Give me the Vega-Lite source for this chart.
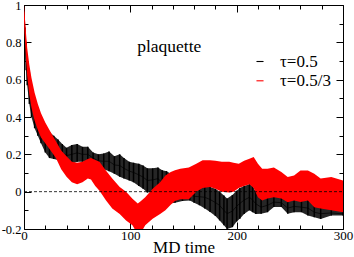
{
  "$schema": "https://vega.github.io/schema/vega-lite/v6.json",
  "width": 319,
  "height": 224,
  "autosize": {"type": "none"},
  "padding": {"left": 24, "top": 5, "right": 11, "bottom": 28},
  "background": "white",
  "config": {
    "view": {"stroke": "black", "strokeWidth": 1},
    "axis": {"domain": false, "grid": false, "labelFont": "Liberation Serif", "titleFont": "Liberation Serif", "labelColor": "black", "tickColor": "black", "titleColor": "black"},
    "legend": {"labelFont": "Liberation Serif", "labelColor": "black"}
  },
  "datasets": {
    "bands": [
      {"s": "τ=0.5", "t": 0, "lo": 0.95, "hi": 1.0, "mid": 0.975},
      {"s": "τ=0.5", "t": 1, "lo": 0.76, "hi": 0.88, "mid": 0.82},
      {"s": "τ=0.5", "t": 2, "lo": 0.65, "hi": 0.8, "mid": 0.725},
      {"s": "τ=0.5", "t": 3, "lo": 0.57, "hi": 0.73, "mid": 0.65},
      {"s": "τ=0.5", "t": 5, "lo": 0.47, "hi": 0.64, "mid": 0.555},
      {"s": "τ=0.5", "t": 7, "lo": 0.4, "hi": 0.57, "mid": 0.485},
      {"s": "τ=0.5", "t": 10, "lo": 0.34, "hi": 0.49, "mid": 0.415},
      {"s": "τ=0.5", "t": 13, "lo": 0.3, "hi": 0.43, "mid": 0.365},
      {"s": "τ=0.5", "t": 16, "lo": 0.26, "hi": 0.39, "mid": 0.325},
      {"s": "τ=0.5", "t": 20, "lo": 0.21, "hi": 0.35, "mid": 0.28},
      {"s": "τ=0.5", "t": 24, "lo": 0.18, "hi": 0.32, "mid": 0.25},
      {"s": "τ=0.5", "t": 28, "lo": 0.175, "hi": 0.3, "mid": 0.238},
      {"s": "τ=0.5", "t": 32, "lo": 0.17, "hi": 0.28, "mid": 0.225},
      {"s": "τ=0.5", "t": 36, "lo": 0.16, "hi": 0.255, "mid": 0.208},
      {"s": "τ=0.5", "t": 40, "lo": 0.15, "hi": 0.235, "mid": 0.193},
      {"s": "τ=0.5", "t": 45, "lo": 0.15, "hi": 0.25, "mid": 0.2},
      {"s": "τ=0.5", "t": 50, "lo": 0.16, "hi": 0.255, "mid": 0.208},
      {"s": "τ=0.5", "t": 55, "lo": 0.16, "hi": 0.24, "mid": 0.2},
      {"s": "τ=0.5", "t": 60, "lo": 0.16, "hi": 0.24, "mid": 0.2},
      {"s": "τ=0.5", "t": 65, "lo": 0.15, "hi": 0.21, "mid": 0.18},
      {"s": "τ=0.5", "t": 70, "lo": 0.13, "hi": 0.2, "mid": 0.165},
      {"s": "τ=0.5", "t": 75, "lo": 0.12, "hi": 0.205, "mid": 0.163},
      {"s": "τ=0.5", "t": 80, "lo": 0.11, "hi": 0.215, "mid": 0.163},
      {"s": "τ=0.5", "t": 85, "lo": 0.096, "hi": 0.19, "mid": 0.143},
      {"s": "τ=0.5", "t": 90, "lo": 0.08, "hi": 0.2, "mid": 0.14},
      {"s": "τ=0.5", "t": 94, "lo": 0.07, "hi": 0.18, "mid": 0.125},
      {"s": "τ=0.5", "t": 99, "lo": 0.06, "hi": 0.16, "mid": 0.11},
      {"s": "τ=0.5", "t": 103, "lo": 0.05, "hi": 0.155, "mid": 0.103},
      {"s": "τ=0.5", "t": 108, "lo": 0.03, "hi": 0.15, "mid": 0.09},
      {"s": "τ=0.5", "t": 112, "lo": 0.015, "hi": 0.14, "mid": 0.078},
      {"s": "τ=0.5", "t": 116, "lo": -0.005, "hi": 0.125, "mid": 0.06},
      {"s": "τ=0.5", "t": 121, "lo": 0.0, "hi": 0.125, "mid": 0.063},
      {"s": "τ=0.5", "t": 126, "lo": 0.01, "hi": 0.13, "mid": 0.07},
      {"s": "τ=0.5", "t": 130, "lo": -0.02, "hi": 0.115, "mid": 0.048},
      {"s": "τ=0.5", "t": 134, "lo": -0.04, "hi": 0.11, "mid": 0.035},
      {"s": "τ=0.5", "t": 137, "lo": -0.064, "hi": 0.1, "mid": 0.018},
      {"s": "τ=0.5", "t": 142, "lo": -0.06, "hi": 0.08, "mid": 0.01},
      {"s": "τ=0.5", "t": 149, "lo": -0.05, "hi": 0.05, "mid": 0.0},
      {"s": "τ=0.5", "t": 156, "lo": -0.047, "hi": 0.02, "mid": -0.014},
      {"s": "τ=0.5", "t": 160, "lo": -0.06, "hi": 0.02, "mid": -0.025},
      {"s": "τ=0.5", "t": 165, "lo": -0.073, "hi": 0.025, "mid": -0.027},
      {"s": "τ=0.5", "t": 170, "lo": -0.09, "hi": 0.03, "mid": -0.03},
      {"s": "τ=0.5", "t": 175, "lo": -0.109, "hi": 0.025, "mid": -0.042},
      {"s": "τ=0.5", "t": 180, "lo": -0.13, "hi": 0.015, "mid": -0.058},
      {"s": "τ=0.5", "t": 184, "lo": -0.154, "hi": 0.0, "mid": -0.074},
      {"s": "τ=0.5", "t": 188, "lo": -0.18, "hi": -0.02, "mid": -0.1},
      {"s": "τ=0.5", "t": 191, "lo": -0.2, "hi": -0.036, "mid": -0.118},
      {"s": "τ=0.5", "t": 196, "lo": -0.19, "hi": -0.018, "mid": -0.104},
      {"s": "τ=0.5", "t": 200, "lo": -0.16, "hi": 0.005, "mid": -0.078},
      {"s": "τ=0.5", "t": 203, "lo": -0.145, "hi": 0.02, "mid": -0.063},
      {"s": "τ=0.5", "t": 207, "lo": -0.12, "hi": 0.03, "mid": -0.045},
      {"s": "τ=0.5", "t": 212, "lo": -0.1, "hi": 0.04, "mid": -0.03},
      {"s": "τ=0.5", "t": 215, "lo": -0.11, "hi": 0.03, "mid": -0.045},
      {"s": "τ=0.5", "t": 218, "lo": -0.12, "hi": 0.0, "mid": -0.065},
      {"s": "τ=0.5", "t": 223, "lo": -0.118, "hi": -0.03, "mid": -0.083},
      {"s": "τ=0.5", "t": 229, "lo": -0.11, "hi": -0.02, "mid": -0.073},
      {"s": "τ=0.5", "t": 235, "lo": -0.082, "hi": -0.015, "mid": -0.056},
      {"s": "τ=0.5", "t": 242, "lo": -0.082, "hi": -0.02, "mid": -0.059},
      {"s": "τ=0.5", "t": 248, "lo": -0.118, "hi": -0.04, "mid": -0.088},
      {"s": "τ=0.5", "t": 254, "lo": -0.11, "hi": -0.03, "mid": -0.079},
      {"s": "τ=0.5", "t": 261, "lo": -0.11, "hi": -0.04, "mid": -0.083},
      {"s": "τ=0.5", "t": 267, "lo": -0.128, "hi": -0.03, "mid": -0.088},
      {"s": "τ=0.5", "t": 273, "lo": -0.137, "hi": -0.065, "mid": -0.11},
      {"s": "τ=0.5", "t": 279, "lo": -0.146, "hi": -0.075, "mid": -0.118},
      {"s": "τ=0.5", "t": 289, "lo": -0.128, "hi": -0.085, "mid": -0.114},
      {"s": "τ=0.5", "t": 300, "lo": -0.128, "hi": -0.095, "mid": -0.119},
      {"s": "τ=0.5/3", "t": 0, "lo": 0.93, "hi": 1.0, "mid": 0.965},
      {"s": "τ=0.5/3", "t": 1, "lo": 0.8, "hi": 0.92, "mid": 0.86},
      {"s": "τ=0.5/3", "t": 2, "lo": 0.7, "hi": 0.84, "mid": 0.77},
      {"s": "τ=0.5/3", "t": 3, "lo": 0.62, "hi": 0.77, "mid": 0.695},
      {"s": "τ=0.5/3", "t": 5, "lo": 0.52, "hi": 0.68, "mid": 0.6},
      {"s": "τ=0.5/3", "t": 7, "lo": 0.45, "hi": 0.61, "mid": 0.53},
      {"s": "τ=0.5/3", "t": 10, "lo": 0.38, "hi": 0.53, "mid": 0.455},
      {"s": "τ=0.5/3", "t": 13, "lo": 0.33, "hi": 0.47, "mid": 0.4},
      {"s": "τ=0.5/3", "t": 16, "lo": 0.29, "hi": 0.42, "mid": 0.355},
      {"s": "τ=0.5/3", "t": 20, "lo": 0.26, "hi": 0.37, "mid": 0.315},
      {"s": "τ=0.5/3", "t": 25, "lo": 0.22, "hi": 0.32, "mid": 0.27},
      {"s": "τ=0.5/3", "t": 30, "lo": 0.18, "hi": 0.27, "mid": 0.225},
      {"s": "τ=0.5/3", "t": 35, "lo": 0.12, "hi": 0.22, "mid": 0.17},
      {"s": "τ=0.5/3", "t": 40, "lo": 0.08, "hi": 0.19, "mid": 0.135},
      {"s": "τ=0.5/3", "t": 45, "lo": 0.05, "hi": 0.16, "mid": 0.105},
      {"s": "τ=0.5/3", "t": 50, "lo": 0.04, "hi": 0.155, "mid": 0.098},
      {"s": "τ=0.5/3", "t": 55, "lo": 0.05, "hi": 0.16, "mid": 0.105},
      {"s": "τ=0.5/3", "t": 60, "lo": 0.07, "hi": 0.175, "mid": 0.123},
      {"s": "τ=0.5/3", "t": 63, "lo": 0.065, "hi": 0.18, "mid": 0.123},
      {"s": "τ=0.5/3", "t": 67, "lo": 0.03, "hi": 0.17, "mid": 0.1},
      {"s": "τ=0.5/3", "t": 71, "lo": 0.005, "hi": 0.16, "mid": 0.083},
      {"s": "τ=0.5/3", "t": 77, "lo": -0.046, "hi": 0.114, "mid": 0.034},
      {"s": "τ=0.5/3", "t": 83, "lo": -0.09, "hi": 0.07, "mid": -0.01},
      {"s": "τ=0.5/3", "t": 90, "lo": -0.12, "hi": 0.025, "mid": -0.048},
      {"s": "τ=0.5/3", "t": 96, "lo": -0.155, "hi": 0.0, "mid": -0.078},
      {"s": "τ=0.5/3", "t": 102, "lo": -0.18, "hi": -0.038, "mid": -0.109},
      {"s": "τ=0.5/3", "t": 107, "lo": -0.23, "hi": -0.064, "mid": -0.147},
      {"s": "τ=0.5/3", "t": 110, "lo": -0.22, "hi": -0.05, "mid": -0.135},
      {"s": "τ=0.5/3", "t": 114, "lo": -0.18, "hi": -0.03, "mid": -0.105},
      {"s": "τ=0.5/3", "t": 121, "lo": -0.145, "hi": 0.016, "mid": -0.065},
      {"s": "τ=0.5/3", "t": 128, "lo": -0.12, "hi": 0.05, "mid": -0.035},
      {"s": "τ=0.5/3", "t": 133, "lo": -0.1, "hi": 0.087, "mid": -0.007},
      {"s": "τ=0.5/3", "t": 138, "lo": -0.07, "hi": 0.105, "mid": 0.018},
      {"s": "τ=0.5/3", "t": 142, "lo": -0.05, "hi": 0.115, "mid": 0.033},
      {"s": "τ=0.5/3", "t": 147, "lo": -0.04, "hi": 0.123, "mid": 0.042},
      {"s": "τ=0.5/3", "t": 155, "lo": -0.04, "hi": 0.13, "mid": 0.045},
      {"s": "τ=0.5/3", "t": 162, "lo": 0.0, "hi": 0.15, "mid": 0.075},
      {"s": "τ=0.5/3", "t": 168, "lo": 0.02, "hi": 0.168, "mid": 0.094},
      {"s": "τ=0.5/3", "t": 175, "lo": 0.025, "hi": 0.168, "mid": 0.097},
      {"s": "τ=0.5/3", "t": 180, "lo": 0.015, "hi": 0.165, "mid": 0.09},
      {"s": "τ=0.5/3", "t": 186, "lo": 0.0, "hi": 0.16, "mid": 0.08},
      {"s": "τ=0.5/3", "t": 193, "lo": -0.005, "hi": 0.16, "mid": 0.078},
      {"s": "τ=0.5/3", "t": 197, "lo": 0.0, "hi": 0.155, "mid": 0.078},
      {"s": "τ=0.5/3", "t": 202, "lo": 0.02, "hi": 0.15, "mid": 0.085},
      {"s": "τ=0.5/3", "t": 207, "lo": 0.03, "hi": 0.165, "mid": 0.098},
      {"s": "τ=0.5/3", "t": 212, "lo": 0.04, "hi": 0.177, "mid": 0.109},
      {"s": "τ=0.5/3", "t": 216, "lo": 0.02, "hi": 0.186, "mid": 0.103},
      {"s": "τ=0.5/3", "t": 220, "lo": -0.03, "hi": 0.15, "mid": 0.06},
      {"s": "τ=0.5/3", "t": 224, "lo": -0.047, "hi": 0.123, "mid": 0.038},
      {"s": "τ=0.5/3", "t": 229, "lo": -0.036, "hi": 0.123, "mid": 0.044},
      {"s": "τ=0.5/3", "t": 235, "lo": -0.03, "hi": 0.13, "mid": 0.05},
      {"s": "τ=0.5/3", "t": 242, "lo": -0.036, "hi": 0.105, "mid": 0.035},
      {"s": "τ=0.5/3", "t": 248, "lo": -0.057, "hi": 0.078, "mid": 0.011},
      {"s": "τ=0.5/3", "t": 254, "lo": -0.047, "hi": 0.087, "mid": 0.02},
      {"s": "τ=0.5/3", "t": 260, "lo": -0.055, "hi": 0.114, "mid": 0.03},
      {"s": "τ=0.5/3", "t": 267, "lo": -0.047, "hi": 0.114, "mid": 0.034},
      {"s": "τ=0.5/3", "t": 273, "lo": -0.083, "hi": 0.096, "mid": 0.007},
      {"s": "τ=0.5/3", "t": 279, "lo": -0.09, "hi": 0.07, "mid": -0.01},
      {"s": "τ=0.5/3", "t": 289, "lo": -0.1, "hi": 0.078, "mid": -0.011},
      {"s": "τ=0.5/3", "t": 300, "lo": -0.11, "hi": 0.06, "mid": -0.025}
    ],
    "zero": [{"t": 0, "v": 0}, {"t": 300, "v": 0}],
    "note": [{"t": 136.6, "v": 0.749, "label": "plaquette"}]
  },
  "resolve": {"axis": {"x": "independent", "y": "independent"}},
  "layer": [
    {
      "data": {"name": "bands"},
      "transform": [{"filter": "datum.s === 'τ=0.5'"}],
      "mark": {"type": "area", "color": "#262626", "clip": true},
      "encoding": {
        "x": {"field": "t", "type": "quantitative", "scale": {"domain": [0, 300], "nice": false, "zero": false},
              "axis": {"orient": "bottom", "values": [0, 100, 200, 300], "ticks": false, "labelPadding": 0, "labelFontSize": 13, "labelFlush": false, "labelExpr": "'' + datum.value", "title": "MD time", "titleFontSize": 17, "titleFontWeight": "normal", "titlePadding": -3}},
        "y": {"field": "lo", "type": "quantitative", "scale": {"domain": [-0.2, 1], "nice": false, "zero": false},
              "axis": {"orient": "left", "values": [-0.2, 0, 0.2, 0.4, 0.6, 0.8, 1], "ticks": false, "labelPadding": 3, "labelFontSize": 12.5, "labelFlush": false, "labelExpr": "'' + datum.value", "title": null}},
        "y2": {"field": "hi"}
      }
    },
    {
      "data": {"name": "bands"},
      "transform": [{"filter": "datum.s === 'τ=0.5'"}],
      "mark": {"type": "rule", "color": "#000000", "strokeWidth": 1.5, "clip": true},
      "encoding": {
        "x": {"field": "t", "type": "quantitative", "axis": null},
        "y": {"field": "lo", "type": "quantitative", "axis": null},
        "y2": {"field": "hi"}
      }
    },
    {
      "data": {"name": "bands"},
      "mark": {"type": "line", "strokeWidth": 0.7, "clip": true},
      "encoding": {
        "x": {"field": "t", "type": "quantitative", "axis": {"orient": "bottom", "values": [0, 100, 200, 300], "labels": false, "tickSize": -7, "title": null}},
        "y": {"field": "mid", "type": "quantitative", "axis": {"orient": "left", "values": [-0.2, 0, 0.2, 0.4, 0.6, 0.8, 1], "labels": false, "tickSize": -7, "title": null}},
        "color": {"field": "s", "type": "nominal",
                  "scale": {"domain": ["τ=0.5", "τ=0.5/3"], "range": ["black", "red"]},
                  "legend": {"orient": "none", "legendX": 227.5, "legendY": 48, "title": null, "padding": 0, "labelFontSize": 17, "symbolType": "stroke", "symbolSize": 50, "symbolStrokeWidth": 1.1, "labelOffset": 11.5, "rowPadding": 1.3}}
      }
    },
    {
      "data": {"name": "bands"},
      "transform": [{"filter": "datum.s === 'τ=0.5/3'"}],
      "mark": {"type": "area", "color": "#ff0000", "clip": true},
      "encoding": {
        "x": {"field": "t", "type": "quantitative", "axis": {"orient": "bottom", "values": [20, 40, 60, 80, 120, 140, 160, 180, 220, 240, 260, 280], "labels": false, "tickSize": -4, "title": null}},
        "y": {"field": "lo", "type": "quantitative", "axis": {"orient": "left", "values": [-0.1, 0.1, 0.3, 0.5, 0.7, 0.9], "labels": false, "tickSize": -4, "title": null}},
        "y2": {"field": "hi"}
      }
    },
    {
      "data": {"name": "zero"},
      "mark": {"type": "line", "color": "black", "strokeWidth": 0.8, "strokeDash": [3, 2]},
      "encoding": {
        "x": {"field": "t", "type": "quantitative", "axis": {"orient": "top", "values": [0, 100, 200, 300], "labels": false, "tickSize": -7, "title": null}},
        "y": {"field": "v", "type": "quantitative", "axis": {"orient": "right", "values": [-0.2, 0, 0.2, 0.4, 0.6, 0.8, 1], "labels": false, "tickSize": -7, "title": null}}
      }
    },
    {
      "data": {"name": "note"},
      "mark": {"type": "text", "font": "Liberation Serif", "fontSize": 17.5, "align": "center", "baseline": "alphabetic", "color": "black"},
      "encoding": {
        "x": {"field": "t", "type": "quantitative", "axis": {"orient": "top", "values": [20, 40, 60, 80, 120, 140, 160, 180, 220, 240, 260, 280], "labels": false, "tickSize": -4, "title": null}},
        "y": {"field": "v", "type": "quantitative", "axis": {"orient": "right", "values": [-0.1, 0.1, 0.3, 0.5, 0.7, 0.9], "labels": false, "tickSize": -4, "title": null}},
        "text": {"field": "label"}
      }
    }
  ]
}
